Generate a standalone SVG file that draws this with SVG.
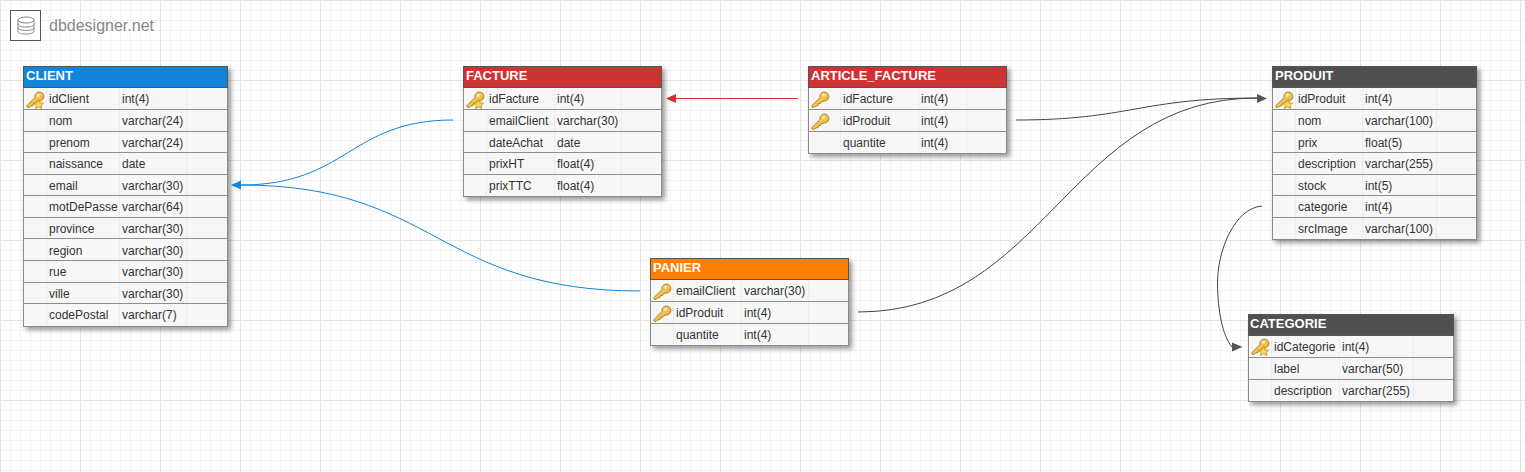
<svg xmlns="http://www.w3.org/2000/svg" width="1525" height="472" viewBox="0 0 1525 472">
<style>
text{font-family:"Liberation Sans",Arial,sans-serif;font-size:12px;fill:#333}
.t{font-size:13px;font-weight:bold;fill:#fff}
.box{fill:#f7f7f7;stroke:#8a8a8a;stroke-width:1;filter:url(#sh)}
.r{stroke:#8e8e8e;stroke-width:1;fill:none}
.c{stroke:#ececec;stroke-width:1;fill:none}
.l{fill:none;stroke-width:1}
</style>
<defs>
<pattern id="g1" width="10" height="10" patternUnits="userSpaceOnUse"><path d="M0.5 0V10M0 0.5H10" stroke="#f3f3f3" fill="none"/></pattern>
<pattern id="g2" width="80" height="80" patternUnits="userSpaceOnUse"><path d="M0.5 0V80M0 0.5H80" stroke="#e4e4e4" fill="none"/></pattern>
<filter id="sh" x="-10%" y="-10%" width="120%" height="120%"><feDropShadow dx="3" dy="3" stdDeviation="2.500" flood-color="#000" flood-opacity=".4"/></filter>
<linearGradient id="kg" x1="0" y1="0" x2="1" y2="1"><stop offset="0" stop-color="#ffe88a"/><stop offset="1" stop-color="#e0a020"/></linearGradient>
<g id="key"><path d="M1 15.500L9 7.500A4.500 4.500 0 1 1 13.500 11L11 11.500L9.500 13.500L7.500 13.500L7 15.500L4.500 16L3 17.500L1 17Z" fill="url(#kg)" stroke="#b08020" stroke-width="1"/><circle cx="12.500" cy="5.500" r="1.300" fill="#fff6c8"/></g>
<g id="pk"><use href="#key"/><path d="M12.500 9.500L14 12.800L17.500 13.200L15 15.500L15.800 18.500L12.500 16.800L9.500 18.500L10.200 15.500L7.500 13.200L11 12.800Z" fill="#ffd84a" stroke="#b88a20" stroke-width=".8"/></g>
</defs>
<rect width="1525" height="472" fill="#fff"/>
<rect width="1525" height="472" fill="url(#g1)"/>
<rect width="1525" height="472" fill="url(#g2)"/>

<g id="logo">
<rect x="10.500" y="10.500" width="30" height="30" fill="#fff" stroke="#555"/>
<g fill="none" stroke="#888" stroke-width="1"><ellipse cx="26" cy="20" rx="8" ry="3"/><path d="M18 20V31C18 33 21 34 26 34S34 33 34 31V20M18 24C18 26 21 27 26 27S34 26 34 24M18 27.500C18 29.500 21 30.500 26 30.500S34 29.500 34 27.500"/></g>
<text x="49" y="31" style="font-size:16px;fill:#888">dbdesigner.net</text>
</g>

<g id="connectors">
<path class="l" stroke="#1384d8" d="M453 120C350 120 347 185 241 185"/>
<path class="l" stroke="#1384d8" d="M640 291C437 291 437 185 241 185"/>
<path d="M231 185L241 180.500V189.500Z" fill="#1384d8"/>
<path class="l" stroke="#c33" d="M798 98.500H676"/>
<path d="M666 98.500L676 94V103Z" fill="#c33"/>
<path class="l" stroke="#444" d="M1016 120C1130 120 1140 98 1257 98"/>
<path class="l" stroke="#444" d="M858 312C1046 312 1068 98 1257 98"/>
<path d="M1267 98.500L1257 94V103Z" fill="#555"/>
<path class="l" stroke="#444" d="M1262 206C1235 208 1217 250 1217.500 285C1218 310 1222 335 1232 347"/>
<path d="M1242.500 347L1232 342.500V351.500Z" fill="#555"/>
</g>

<g id="client">
<rect class="box" x="23.500" y="66.500" width="204" height="260"/>
<rect x="23.500" y="66.500" width="204" height="21" fill="#1384d8" stroke="#555"/>
<path class="c" d="M46.500 88V326M119.500 88V326M186.500 88V326"/>
<path class="r" d="M24 109.500H227M24 131.500H227M24 152.500H227M24 174.500H227M24 195.500H227M24 217.500H227M24 238.500H227M24 260.500H227M24 282.500H227M24 303.500H227"/>
<text class="t" x="26" y="80">CLIENT</text>
<use href="#pk" x="26" y="90"/>
<text x="49" y="103">idClient</text><text x="122" y="103">int(4)</text>
<text x="49" y="125">nom</text><text x="122" y="125">varchar(24)</text>
<text x="49" y="147">prenom</text><text x="122" y="147">varchar(24)</text>
<text x="49" y="168">naissance</text><text x="122" y="168">date</text>
<text x="49" y="190">email</text><text x="122" y="190">varchar(30)</text>
<text x="49" y="211">motDePasse</text><text x="122" y="211">varchar(64)</text>
<text x="49" y="233">province</text><text x="122" y="233">varchar(30)</text>
<text x="49" y="255">region</text><text x="122" y="255">varchar(30)</text>
<text x="49" y="276">rue</text><text x="122" y="276">varchar(30)</text>
<text x="49" y="298">ville</text><text x="122" y="298">varchar(30)</text>
<text x="49" y="319">codePostal</text><text x="122" y="319">varchar(7)</text>
</g>

<g id="facture">
<rect class="box" x="463.500" y="66.500" width="198" height="130"/>
<rect x="463.500" y="66.500" width="198" height="21" fill="#cc3333" stroke="#555"/>
<path class="c" d="M486.500 88V196M554.500 88V196M621.500 88V196"/>
<path class="r" d="M464 109.500H661M464 131.500H661M464 152.500H661M464 174.500H661"/>
<text class="t" x="466" y="80">FACTURE</text>
<use href="#pk" x="466" y="90"/>
<text x="489" y="103">idFacture</text><text x="557" y="103">int(4)</text>
<text x="489" y="125">emailClient</text><text x="557" y="125">varchar(30)</text>
<text x="489" y="147">dateAchat</text><text x="557" y="147">date</text>
<text x="489" y="168">prixHT</text><text x="557" y="168">float(4)</text>
<text x="489" y="190">prixTTC</text><text x="557" y="190">float(4)</text>
</g>

<g id="article_facture">
<rect class="box" x="808.500" y="66.500" width="198" height="87"/>
<rect x="808.500" y="66.500" width="198" height="21" fill="#cc3333" stroke="#555"/>
<path class="c" d="M840.500 88V153M918.500 88V153M966.500 88V153"/>
<path class="r" d="M809 109.500H1006M809 131.500H1006"/>
<text class="t" x="811" y="80">ARTICLE_FACTURE</text>
<use href="#key" x="811" y="90"/><use href="#key" x="811" y="112"/>
<text x="843" y="103">idFacture</text><text x="921" y="103">int(4)</text>
<text x="843" y="125">idProduit</text><text x="921" y="125">int(4)</text>
<text x="843" y="147">quantite</text><text x="921" y="147">int(4)</text>
</g>

<g id="produit">
<rect class="box" x="1272.500" y="66.500" width="204" height="173"/>
<rect x="1272.500" y="66.500" width="204" height="21" fill="#505050" stroke="#555"/>
<path class="c" d="M1295.500 88V239M1362.500 88V239M1436.500 88V239"/>
<path class="r" d="M1273 109.500H1476M1273 131.500H1476M1273 152.500H1476M1273 174.500H1476M1273 195.500H1476M1273 217.500H1476"/>
<text class="t" x="1275" y="80">PRODUIT</text>
<use href="#pk" x="1275" y="90"/>
<text x="1298" y="103">idProduit</text><text x="1365" y="103">int(4)</text>
<text x="1298" y="125">nom</text><text x="1365" y="125">varchar(100)</text>
<text x="1298" y="147">prix</text><text x="1365" y="147">float(5)</text>
<text x="1298" y="168">description</text><text x="1365" y="168">varchar(255)</text>
<text x="1298" y="190">stock</text><text x="1365" y="190">int(5)</text>
<text x="1298" y="211">categorie</text><text x="1365" y="211">int(4)</text>
<text x="1298" y="233">srcImage</text><text x="1365" y="233">varchar(100)</text>
</g>

<g id="panier">
<rect class="box" x="650.500" y="258.500" width="198" height="87"/>
<rect x="650.500" y="258.500" width="198" height="21" fill="#ff8000" stroke="#555"/>
<path class="c" d="M673.500 280V345M741.500 280V345M808.500 280V345"/>
<path class="r" d="M651 301.500H848M651 323.500H848"/>
<text class="t" x="653" y="272">PANIER</text>
<use href="#key" x="653" y="282"/><use href="#key" x="653" y="304"/>
<text x="676" y="295">emailClient</text><text x="744" y="295">varchar(30)</text>
<text x="676" y="317">idProduit</text><text x="744" y="317">int(4)</text>
<text x="676" y="339">quantite</text><text x="744" y="339">int(4)</text>
</g>

<g id="categorie">
<rect class="box" x="1248.500" y="314.500" width="205" height="87"/>
<rect x="1248.500" y="314.500" width="205" height="21" fill="#505050" stroke="#555"/>
<path class="c" d="M1271.500 336V401M1339.500 336V401M1413.500 336V401"/>
<path class="r" d="M1249 357.500H1453M1249 379.500H1453"/>
<text class="t" x="1250" y="328">CATEGORIE</text>
<use href="#pk" x="1251" y="337"/>
<text x="1274" y="351">idCategorie</text><text x="1342" y="351">int(4)</text>
<text x="1274" y="373">label</text><text x="1342" y="373">varchar(50)</text>
<text x="1274" y="395">description</text><text x="1342" y="395">varchar(255)</text>
</g>
</svg>
